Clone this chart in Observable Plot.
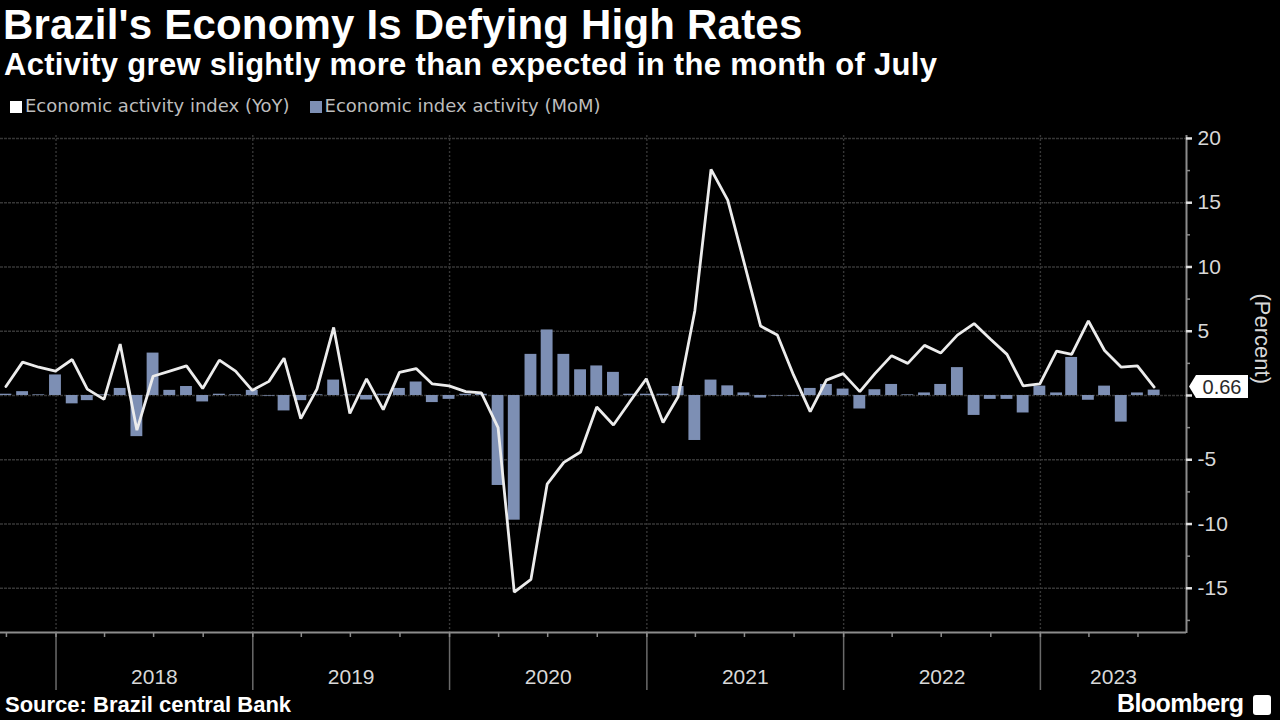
<!DOCTYPE html>
<html>
<head>
<meta charset="utf-8">
<script src="https://cdn.jsdelivr.net/npm/d3@7"></script>
<script src="https://cdn.jsdelivr.net/npm/@observablehq/plot@0.6"></script>
<style>
  html, body { margin: 0; padding: 0; background: #000; }
  body { width: 1280px; height: 720px; overflow: hidden; position: relative; font-family: "Liberation Sans", Arial, sans-serif; }
  #title { position: absolute; left: 3px; top: 1px; font-size: 42px; font-weight: bold; color: #fff; white-space: nowrap; letter-spacing: 0.2px; }
  #subtitle { position: absolute; left: 4px; top: 47px; font-size: 31px; font-weight: bold; color: #fff; white-space: nowrap; letter-spacing: 0.3px; }
  #legend { position: absolute; left: 10px; top: 95px; font-size: 18px; color: #bdbdbd; white-space: nowrap; font-family: "DejaVu Sans", sans-serif; }
  #legend span.item { display: inline-block; margin-right: 20px; }
  #legend span.sw { display: inline-block; width: 12px; height: 12px; margin-right: 3px; vertical-align: -1px; }
  #chart { position: absolute; left: 0; top: 120px; }
  #source { position: absolute; left: 5px; top: 692px; font-size: 22px; font-weight: bold; color: #fff; white-space: nowrap; }
  #brand { position: absolute; left: 1117px; top: 689px; font-size: 25px; font-weight: bold; color: #fff; white-space: nowrap; letter-spacing: -0.6px; }
  #logo { position: absolute; left: 1253px; top: 695px; width: 18px; height: 20px; background: #fff; border-radius: 3px; }
</style>
</head>
<body>
<div id="title">Brazil's Economy Is Defying High Rates</div>
<div id="subtitle">Activity grew slightly more than expected in the month of July</div>
<div id="legend"></div>
<div id="chart"></div>
<div id="source">Source: Brazil central Bank</div>
<div id="brand">Bloomberg</div>
<div id="logo"></div>
<script>
// ---- data ----
const months = [
  "2017-09","2017-10","2017-11","2017-12",
  "2018-01","2018-02","2018-03","2018-04","2018-05","2018-06","2018-07","2018-08","2018-09","2018-10","2018-11","2018-12",
  "2019-01","2019-02","2019-03","2019-04","2019-05","2019-06","2019-07","2019-08","2019-09","2019-10","2019-11","2019-12",
  "2020-01","2020-02","2020-03","2020-04","2020-05","2020-06","2020-07","2020-08","2020-09","2020-10","2020-11","2020-12",
  "2021-01","2021-02","2021-03","2021-04","2021-05","2021-06","2021-07","2021-08","2021-09","2021-10","2021-11","2021-12",
  "2022-01","2022-02","2022-03","2022-04","2022-05","2022-06","2022-07","2022-08","2022-09","2022-10","2022-11","2022-12",
  "2023-01","2023-02","2023-03","2023-04","2023-05","2023-06","2023-07"
];
const yoyValues = [
  0.7, 2.6, 2.2, 1.9,
  2.8, 0.5, -0.3, 4.0, -2.7, 1.5, 1.9, 2.3, 0.55, 2.75, 1.9, 0.4,
  1.1, 2.9, -1.8, 0.5, 5.3, -1.4, 1.3, -1.1, 1.8, 2.1, 0.9, 0.75,
  0.3, 0.2, -2.5, -15.3, -14.3, -6.9, -5.2, -4.4, -0.9, -2.3, -0.5, 1.3,
  -2.1, -0.1, 6.6, 17.6, 15.2, 10.4, 5.4, 4.7, 1.6, -1.25, 1.2, 1.7,
  0.3, 1.7, 3.1, 2.5, 3.9, 3.3, 4.7, 5.6, 4.4, 3.2, 0.75, 0.9,
  3.45, 3.2, 5.8, 3.5, 2.2, 2.3, 0.66
];
const momValues = [
  0.1, 0.3, 0.05, 1.6,
  -0.65, -0.4, 0.05, 0.55, -3.2, 3.3, 0.4, 0.7, -0.5, 0.1, 0.05, 0.4,
  -0.05, -1.2, -0.4, 0.05, 1.2, 0.05, -0.35, 0.1, 0.55, 1.05, -0.55, -0.3,
  0.1, 0.1, -7.0, -9.7, 3.2, 5.1, 3.2, 2.0, 2.3, 1.8, 0.1, 0.1,
  0.1, 0.7, -3.5, 1.2, 0.75, 0.2, -0.2, -0.05, -0.05, 0.55, 0.86, 0.5,
  -1.05, 0.45, 0.86, 0.05, 0.2, 0.86, 2.17, -1.55, -0.3, -0.3, -1.36, 0.73,
  0.2, 2.96, -0.37, 0.73, -2.07, 0.2, 0.42
];
const seriesNames = ["Economic activity index (YoY)", "Economic index activity (MoM)"];
const seriesColors = ["#ffffff", "#7d8fb4"];
const yearLabels = ["2018", "2019", "2020", "2021", "2022", "2023"];
const yTicks = [-15, -10, -5, 0, 5, 10, 15, 20];
const yTickLabels = [-15, -10, -5, 5, 10, 15, 20]; // the 0 label sits under the value flag
const yMinorTicks = [-17.5, -12.5, -7.5, -2.5, 2.5, 7.5, 12.5, 17.5];
const xDomainStr = ["2017-09-20", "2023-09-29"];
const yDomain = [-18.44, 20.23];
const yAxisLabel = "(Percent)";
const lastLabel = "0.66";

// ---- build ----
const parseM = d3.utcParse("%Y-%m");
const parseD = d3.utcParse("%Y-%m-%d");
const monthEnd = m => d3.utcDay.offset(d3.utcMonth.offset(parseM(m), 1), -1);
const data = months.map((m, i) => ({date: monthEnd(m), yoy: yoyValues[i], mom: momValues[i]}));
const xDomain = xDomainStr.map(parseD);
const yearStarts = yearLabels.map(y => parseD(y + "-01-01"));
const quarterStarts = d3.utcMonth.every(3).range(xDomain[0], xDomain[1]);
const yearMid = yearLabels.map(y => {
  const s = Math.max(+parseD(y + "-01-01"), +xDomain[0]);
  const e = Math.min(+parseD((+y + 1) + "-01-01"), +xDomain[1]);
  return {label: y, mid: new Date((s + e) / 2)};
});

// legend
const legend = document.getElementById("legend");
seriesNames.forEach((n, i) => {
  const it = document.createElement("span");
  it.className = "item";
  it.innerHTML = `<span class="sw" style="background:${seriesColors[i]}"></span>${n}`;
  legend.appendChild(it);
});

const axisColor = "#8c8c8c";
const gridColor = "#363636";
const bottomY = yDomain[0];
const rightX = xDomain[1];

const plot = Plot.plot({
  width: 1280,
  height: 580,
  marginTop: 15,
  marginBottom: 68,
  marginLeft: 0,
  marginRight: 94,
  style: {background: "transparent", color: "#d0d0d0", fontFamily: "'Liberation Sans', Arial, sans-serif", fontSize: "21px", overflow: "visible"},
  x: {type: "utc", domain: xDomain, axis: null},
  y: {domain: yDomain, axis: null},
  marks: [
    Plot.ruleY(yTicks, {stroke: gridColor, strokeWidth: 1.4, strokeDasharray: "3,1"}),
    Plot.ruleX(yearStarts, {stroke: gridColor, strokeWidth: 1.4, strokeDasharray: "2,2"}),
    Plot.rect(data, {
      x1: d => d3.utcDay.offset(d.date, -11),
      x2: d => d3.utcDay.offset(d.date, 11),
      y1: d => 0,
      y2: "mom",
      fill: seriesColors[1]
    }),
    Plot.line(data, {x: "date", y: "yoy", stroke: "#ececec", strokeWidth: 2.8, strokeLinejoin: "miter"}),
    // axis lines
    Plot.ruleX([rightX], {stroke: axisColor, strokeWidth: 2, insetBottom: -1}),
    Plot.ruleY([bottomY], {stroke: axisColor, strokeWidth: 2}),
    // y ticks
    Plot.ruleY(yTicks, {x1: d => rightX, x2: d => rightX, insetRight: -6, stroke: "#e0e0e0", strokeWidth: 2.5}),
    Plot.ruleY(yMinorTicks, {x1: d => rightX, x2: d => rightX, insetRight: -4, stroke: axisColor, strokeWidth: 1.5}),
    Plot.text(yTickLabels, {x: d => rightX, y: d => d, text: d => String(d), textAnchor: "start", dx: 11, fill: "#d8d8d8", fontSize: 21}),
    // x ticks
    Plot.ruleX(yearStarts, {y1: d => bottomY, y2: d => bottomY, insetBottom: -58, stroke: "#6a6a6a", strokeWidth: 1.5}),
    Plot.ruleX(quarterStarts, {y1: d => bottomY, y2: d => bottomY, insetBottom: -5, stroke: axisColor, strokeWidth: 1.5}),
    Plot.text(yearMid, {x: "mid", y: d => bottomY, text: "label", dy: 45, fill: "#d8d8d8", fontSize: 21}),
    // y axis label
    Plot.text([yAxisLabel], {frameAnchor: "right", rotate: 90, dx: 76, fill: "#d8d8d8", fontSize: 22})
  ]
});
document.getElementById("chart").appendChild(plot);

// value label with pointer, placed through the plot's scales
const sx = plot.scale("x"), sy = plot.scale("y");
const last = data[data.length - 1];
const px = sx.apply(rightX), py = sy.apply(last.yoy);
const svg = d3.select(plot);
const g = svg.append("g");
const x0 = px + 3, bx = px + 10, bw = 52, bh = 23;
g.append("path")
  .attr("d", `M${x0},${py} L${bx},${py - bh / 2} L${bx + bw},${py - bh / 2} L${bx + bw},${py + bh / 2} L${bx},${py + bh / 2} Z`)
  .attr("fill", "#ffffff");
g.append("text")
  .attr("x", bx + bw / 2).attr("y", py).attr("dy", "0.35em")
  .attr("text-anchor", "middle")
  .attr("fill", "#2a2a2a")
  .attr("font-size", 20)
  .attr("font-family", "'Liberation Sans', Arial, sans-serif")
  .text(lastLabel);
</script>
</body>
</html>
